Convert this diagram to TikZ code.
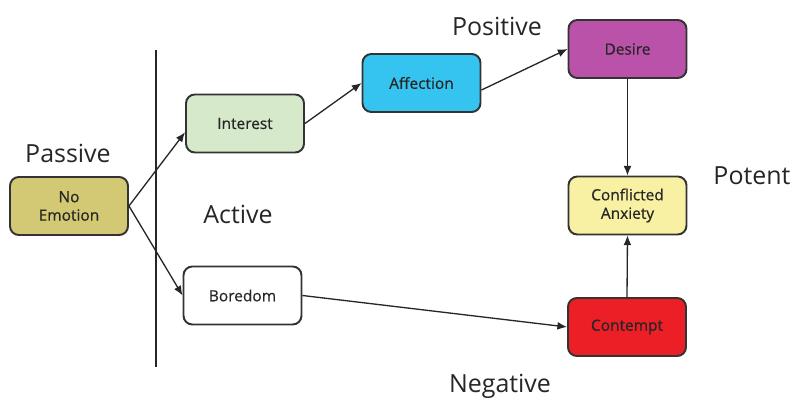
\documentclass[tikz,border=0pt]{standalone}
\usepackage{fontspec}
\setmainfont{Open Sans}
\newfontfamily\boxfont[FakeBold=0.6]{Open Sans}
\usetikzlibrary{arrows.meta}
\usetikzlibrary{positioning}

\definecolor{noemoC}{HTML}{D3C873}
\definecolor{interestC}{HTML}{D6E9CA}
\definecolor{affectionC}{HTML}{35C4EF}
\definecolor{desireC}{HTML}{BB52A9}
\definecolor{anxietyC}{HTML}{F8F0A2}
\definecolor{contemptC}{HTML}{EC1F26}
\definecolor{edgeC}{HTML}{333333}

\tikzset{
  emo/.style={
    draw=edgeC,
    line width=1.1pt,
    rounded corners=5pt,
    minimum width=2.36cm,
    minimum height=1.16cm,
    align=center,
    font=\boxfont\fontsize{8.8}{10.5}\selectfont,
    text=black!85,
  },
  pil/.style={
    -{Latex[length=5.5pt,width=4.5pt]},
    line width=0.75pt,
    color=black!85,
  },
  axis label/.style={
    font=\fontsize{14.2}{16}\selectfont,
    text=black!85,
  },
}

\begin{document}
\begin{tikzpicture}[x=0.02cm,y=-0.02cm]
\useasboundingbox (0,0) rectangle (795,398);
%==========================================
\node[emo,fill=noemoC] (noemo) at (69,206) {No\\Emotion};
\node[emo,fill=interestC] (interest) at (245,123.5) {Interest};
\node[emo,fill=white] (boredom) at (242.5,295.5) {Boredom};
\node[emo,fill=affectionC] (affection) at (421.5,83) {Affection};
\node[emo,fill=desireC] (desire) at (627.5,49) {Desire};
\node[emo,fill=anxietyC] (anxiety) at (627.5,205.5) {Conflicted\\Anxiety};
\node[emo,fill=contemptC] (contempt) at (627,327) {Contempt};
%==========================================
\coordinate (top) at (156,50);
\coordinate (bottom) at (156,367);
\draw[line width=1pt,color=black!85] (top) -- (bottom);
%==========================================
\draw[pil] (noemo.east) -- ([yshift=-5pt]interest.west);
\draw[pil] (noemo.east) -- (boredom.west);
\draw[pil] (interest.east) -- (affection.west);
\draw[pil] ([yshift=-4pt]affection.east) -- (desire.west);
\draw[pil] (boredom.east) -- (contempt.west);
\draw[pil] (desire.south) -- (anxiety.north);
\draw[pil] (contempt.north) -- (anxiety.south);
%==========================================
\node[axis label] (passive) at (68,153) {Passive};
\node[axis label] (active) at (238,214) {Active};
\node[axis label] (positive) at (497,26) {Positive};
\node[axis label] (potent) at (752,176) {Potent};
\node[axis label] (negative) at (500,386) {Negative};
\end{tikzpicture}
\end{document}
